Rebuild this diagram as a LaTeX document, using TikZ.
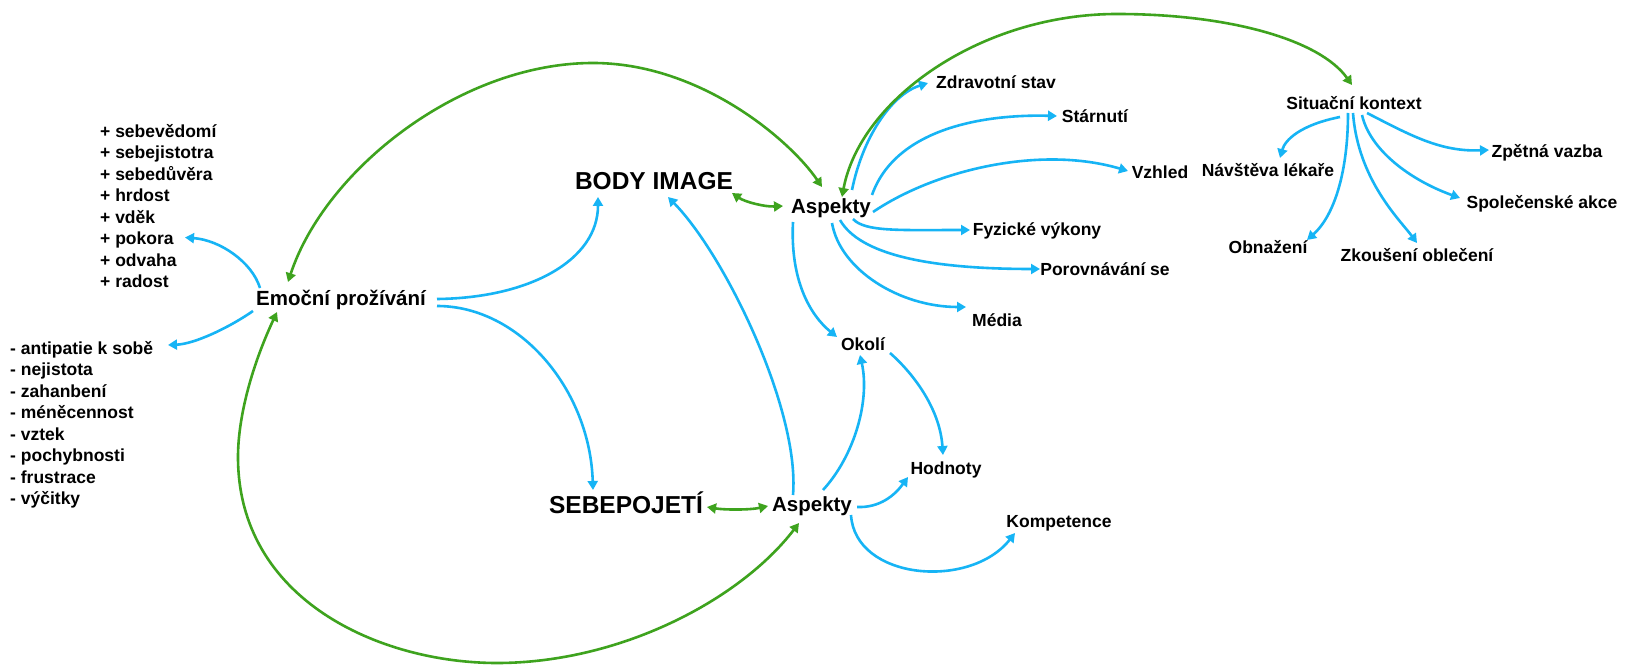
\documentclass[tikz,border=0pt]{standalone}
\usepackage{fontspec}
\setmainfont{Liberation Sans}
\usetikzlibrary{arrows.meta}
\definecolor{cblue}{RGB}{22,180,245}
\definecolor{cgreen}{RGB}{62,163,30}
\begin{document}
\begin{tikzpicture}[x=1pt,y=-1pt,
  smalltxt/.style={inner sep=0pt, font=\bfseries\fontsize{17.5}{20}\selectfont, text height=12.6pt, text depth=0pt},
  medtxt/.style={inner sep=0pt, font=\bfseries\fontsize{20.5}{24}\selectfont, text height=14.8pt, text depth=0pt},
  bigtxt/.style={inner sep=0pt, font=\bfseries\fontsize{24.5}{28}\selectfont, text height=17.6pt, text depth=0pt},
  itemtxt/.style={inner sep=0pt, anchor=west, font=\bfseries\fontsize{17.5}{20}\selectfont, text height=12.6pt, text depth=0pt},
  bluearr/.style={draw=cblue, line width=2.6pt, -{Triangle[length=9pt,width=10pt]}},
  greenarr/.style={draw=cgreen, line width=2.6pt, {Triangle[length=9pt,width=10pt]}-{Triangle[length=9pt,width=10pt]}},
]
\fill[white] (0,0) rectangle (1625,668);

% main nodes
\node[medtxt] (emo) at (341,298) {Emoční prožívání};
\node[bigtxt] (body) at (654,181) {BODY IMAGE};
\node[bigtxt] (sebe) at (626,505) {SEBEPOJETÍ};
\node[medtxt] (asp1) at (831,206) {Aspekty};
\node[medtxt] (asp2) at (812,504) {Aspekty};
\node[smalltxt] (zdrav) at (996,82) {Zdravotní stav};
\node[smalltxt] (starn) at (1095,116) {Stárnutí};
\node[smalltxt] (vzhled) at (1160,172) {Vzhled};
\node[smalltxt] (fyz) at (1037,229) {Fyzické výkony};
\node[smalltxt] (porov) at (1105,269) {Porovnávání se};
\node[smalltxt] (media) at (997,320) {Média};
\node[smalltxt] (okoli) at (863,344) {Okolí};
\node[smalltxt] (hodn) at (946,468) {Hodnoty};
\node[smalltxt] (komp) at (1059,521) {Kompetence};
\node[smalltxt] (sit) at (1354,103) {Situační kontext};
\node[smalltxt] (nav) at (1268,170) {Návštěva lékaře};
\node[smalltxt] (zpet) at (1547,151) {Zpětná vazba};
\node[smalltxt] (spol) at (1542,202) {Společenské akce};
\node[smalltxt] (obn) at (1268,247) {Obnažení};
\node[smalltxt] (zkous) at (1417,255) {Zkoušení oblečení};

% lists
\node[itemtxt] (pos1) at (100,131) {+ sebevědomí};
\node[itemtxt] (pos2) at (100,152.5) {+ sebejistotra};
\node[itemtxt] (pos3) at (100,174) {+ sebedůvěra};
\node[itemtxt] (pos4) at (100,195.5) {+ hrdost};
\node[itemtxt] (pos5) at (100,217) {+ vděk};
\node[itemtxt] (pos6) at (100,238.5) {+ pokora};
\node[itemtxt] (pos7) at (100,260) {+ odvaha};
\node[itemtxt] (pos8) at (100,281.5) {+ radost};

\node[itemtxt] (neg1) at (10,348) {- antipatie k sobě};
\node[itemtxt] (neg2) at (10,369.5) {- nejistota};
\node[itemtxt] (neg3) at (10,391) {- zahanbení};
\node[itemtxt] (neg4) at (10,412.5) {- méněcennost};
\node[itemtxt] (neg5) at (10,434) {- vztek};
\node[itemtxt] (neg6) at (10,455.5) {- pochybnosti};
\node[itemtxt] (neg7) at (10,477) {- frustrace};
\node[itemtxt] (neg8) at (10,498.5) {- výčitky};

% blue connectors
\draw[bluearr] ([shift={(-81,-10)}]emo.center) .. controls (252,262) and (220,240) .. ([shift={(85,-1)}]pos6.west);
\draw[bluearr] ([shift={(-88,13)}]emo.center) .. controls (230,327) and (195,344) .. ([shift={(158,-3)}]neg1.west);
\draw[bluearr] ([shift={(96,1)}]emo.center) .. controls (530,298) and (598,260) .. ([shift={(-56,16)}]body.center);
\draw[bluearr] ([shift={(96,8)}]emo.center) .. controls (520,306) and (590,390) .. ([shift={(-33,-15)}]sebe.center);
\draw[bluearr] ([shift={(-19,-9)}]asp2.center) .. controls (800,410) and (725,255) .. ([shift={(14,16)}]body.center);

\draw[bluearr] ([shift={(21,-16)}]asp1.center) .. controls (862,140) and (890,95) .. ([shift={(-68,1)}]zdrav.center);
\draw[bluearr] ([shift={(41,-11)}]asp1.center) .. controls (895,130) and (980,114) .. ([shift={(-38,0)}]starn.center);
\draw[bluearr] ([shift={(42,6)}]asp1.center) .. controls (935,170) and (1040,145) .. ([shift={(-32,-1)}]vzhled.center);
\draw[bluearr] ([shift={(22,13)}]asp1.center) .. controls (865,232) and (900,230) .. ([shift={(-67,1)}]fyz.center);
\draw[bluearr] ([shift={(9,14)}]asp1.center) .. controls (860,255) and (930,269) .. ([shift={(-65,0)}]porov.center);
\draw[bluearr] ([shift={(1,17)}]asp1.center) .. controls (840,270) and (900,307) .. ([shift={(-31,-13)}]media.center);
\draw[bluearr] ([shift={(-38,16)}]asp1.center) .. controls (790,280) and (810,315) .. ([shift={(-26,-7)}]okoli.center);

\draw[bluearr] ([shift={(11,-14)}]asp2.center) .. controls (855,455) and (870,400) .. ([shift={(-3,11)}]okoli.center);
\draw[bluearr] ([shift={(27,9)}]okoli.center) .. controls (915,375) and (940,410) .. ([shift={(-3,-13)}]hodn.center);
\draw[bluearr] ([shift={(45,3)}]asp2.center) .. controls (880,508) and (895,495) .. ([shift={(-38,9)}]hodn.center);
\draw[bluearr] ([shift={(39,11)}]asp2.center) .. controls (855,580) and (970,590) .. ([shift={(-44,12)}]komp.center);

\draw[bluearr] ([shift={(-14,14)}]sit.center) .. controls (1300,125) and (1285,140) .. ([shift={(12,-12)}]nav.center);
\draw[bluearr] ([shift={(13,10)}]sit.center) .. controls (1410,135) and (1440,152) .. ([shift={(-58,-1)}]zpet.center);
\draw[bluearr] ([shift={(8,12)}]sit.center) .. controls (1370,150) and (1410,180) .. ([shift={(-82,-4)}]spol.center);
\draw[bluearr] ([shift={(-6,10)}]sit.center) .. controls (1348,170) and (1335,215) .. ([shift={(39,-7)}]obn.center);
\draw[bluearr] ([shift={(-1,10)}]sit.center) .. controls (1358,180) and (1400,220) .. ([shift={(0,-12)}]zkous.center);

% green connectors
\draw[greenarr] ([shift={(78,12)}]body.center) .. controls (745,202) and (765,207) .. ([shift={(-48,0)}]asp1.center);
\draw[greenarr] ([shift={(81,2)}]sebe.center) .. controls (725,510) and (750,510) .. ([shift={(-44,2)}]asp2.center);
\draw[greenarr] ([shift={(-53,-16)}]emo.center) .. controls (325,170) and (460,63) .. (593,63)
   .. controls (700,63) and (790,140) .. ([shift={(-9,-19)}]asp1.center);
\draw[greenarr] ([shift={(-64,14)}]emo.center) .. controls (250,370) and (238,420) .. (238,457)
   .. controls (238,600) and (380,663) .. (497,663)
   .. controls (620,663) and (740,600) .. ([shift={(-13,19)}]asp2.center);
\draw[greenarr] ([shift={(11,-9)}]asp1.center) .. controls (860,100) and (980,14) .. (1117,14)
   .. controls (1230,14) and (1320,40) .. ([shift={(-2,-18)}]sit.center);
\end{tikzpicture}
\end{document}
